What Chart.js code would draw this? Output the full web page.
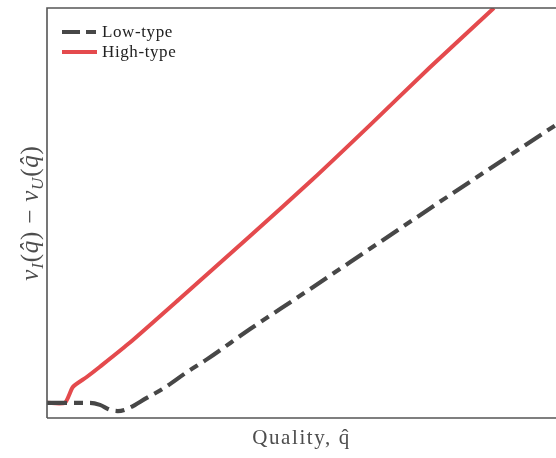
<!DOCTYPE html>
<html>
<head>
<meta charset="utf-8">
<script src="https://cdn.jsdelivr.net/npm/chart.js@4/dist/chart.umd.min.js"></script>
<style>
html,body{margin:0;padding:0;background:#fff;}
#wrap{width:556px;height:458px;position:relative;}
</style>
</head>
<body>
<div id="wrap"><canvas id="c" width="556" height="458"></canvas></div>
<script>
// Quality grid (normalised) and value differences v_I(q) - v_U(q) (normalised units)
const lowQuality  = [0, 0.084, 0.104, 0.124, 0.139, 0.157, 0.196, 0.230, 0.275, 0.314, 0.399, 0.497, 0.654, 0.792, 1.0];
const lowValues   = [0.037, 0.037, 0.032, 0.020, 0.017, 0.022, 0.049, 0.073, 0.112, 0.143, 0.217, 0.298, 0.429, 0.544, 0.715];
const highQuality = [0, 0.035, 0.051, 0.078, 0.104, 0.163, 0.259, 0.399, 0.521, 0.635, 0.752, 0.878];
const highValues  = [0.037, 0.037, 0.076, 0.100, 0.125, 0.184, 0.289, 0.444, 0.581, 0.715, 0.855, 1.0];
const seriesNames = ['Low-type', 'High-type'];
const xTitle = 'Quality, q\u0302';

const LOW_COLOR = '#474747';
const HIGH_COLOR = '#e44a4d';
const DASH = [20, 7, 9, 7];

const toPts = (xs, ys) => xs.map((x, i) => ({x: x, y: ys[i]}));

const decor = {
  id: 'decor',
  afterDraw(chart) {
    const ctx = chart.ctx, a = chart.chartArea;
    ctx.save();
    // frame
    ctx.strokeStyle = '#555555';
    ctx.lineWidth = 1.6;
    ctx.beginPath();
    ctx.moveTo(a.left, a.bottom); ctx.lineTo(a.left, a.top); ctx.lineTo(a.right, a.top);
    ctx.moveTo(a.left, a.bottom); ctx.lineTo(a.right, a.bottom);
    ctx.stroke();

    // legend
    const items = [
      {name: seriesNames[0], color: LOW_COLOR, dash: [18, 6, 10, 6], y: 32},
      {name: seriesNames[1], color: HIGH_COLOR, dash: [], y: 52}
    ];
    items.forEach(it => {
      ctx.strokeStyle = it.color;
      ctx.lineWidth = 4;
      ctx.lineCap = 'butt';
      ctx.setLineDash(it.dash);
      ctx.beginPath(); ctx.moveTo(62, it.y); ctx.lineTo(97, it.y); ctx.stroke();
      ctx.setLineDash([]);
      ctx.fillStyle = '#222222';
      ctx.font = '17px "Liberation Serif"';
      ctx.letterSpacing = '0.6px';
      ctx.textBaseline = 'middle';
      ctx.textAlign = 'left';
      ctx.fillText(it.name, 102, it.y + 1);
    });

    // x title
    ctx.fillStyle = '#4d4d4d';
    ctx.font = '21px "Liberation Serif"';
    ctx.letterSpacing = '1.6px';
    ctx.textAlign = 'center';
    ctx.textBaseline = 'alphabetic';
    ctx.fillText(xTitle, (a.left + a.right) / 2, 444);

    // y title with subscripts
    ctx.letterSpacing = '0.8px';
    const big = 'italic 25px "Liberation Serif"';
    const up = '25px "Liberation Serif"';
    const small = 'italic 17px "Liberation Serif"';
    const parts = [
      {t: 'v', f: big, dy: 0}, {t: 'I', f: small, dy: 5},
      {t: '(', f: up, dy: 0}, {t: 'q\u0302', f: big, dy: 0}, {t: ')', f: up, dy: 0},
      {t: ' \u2212 ', f: up, dy: 0},
      {t: 'v', f: big, dy: 0}, {t: 'U', f: small, dy: 5},
      {t: '(', f: up, dy: 0}, {t: 'q\u0302', f: big, dy: 0}, {t: ')', f: up, dy: 0}
    ];
    let total = 0;
    parts.forEach(p => { ctx.font = p.f; p.w = ctx.measureText(p.t).width; total += p.w; });
    ctx.translate(38, (a.top + a.bottom) / 2);
    ctx.rotate(-Math.PI / 2);
    ctx.textAlign = 'left';
    let x = -total / 2;
    parts.forEach(p => { ctx.font = p.f; ctx.fillText(p.t, x, p.dy); x += p.w; });
    ctx.restore();
  }
};

new Chart(document.getElementById('c'), {
  type: 'line',
  data: {
    datasets: [
      {
        label: seriesNames[0],
        data: toPts(lowQuality, lowValues),
        borderColor: LOW_COLOR,
        borderWidth: 4.2,
        borderDash: DASH,
        borderCapStyle: 'butt',
        pointRadius: 0,
        cubicInterpolationMode: 'monotone',
        fill: false,
        clip: 0
      },
      {
        label: seriesNames[1],
        data: toPts(highQuality, highValues),
        borderColor: HIGH_COLOR,
        borderWidth: 4,
        pointRadius: 0,
        tension: 0.2,
        borderJoinStyle: 'round',
        fill: false,
        clip: 0
      }
    ]
  },
  options: {
    responsive: false,
    animation: false,
    devicePixelRatio: 1,
    layout: {padding: {left: 47, top: 8, right: 0, bottom: 40}},
    plugins: {legend: {display: false}, tooltip: {enabled: false}},
    scales: {
      x: {type: 'linear', min: 0, max: 1, display: false},
      y: {type: 'linear', min: 0, max: 1, display: false}
    }
  },
  plugins: [decor]
});
</script>
</body>
</html>
